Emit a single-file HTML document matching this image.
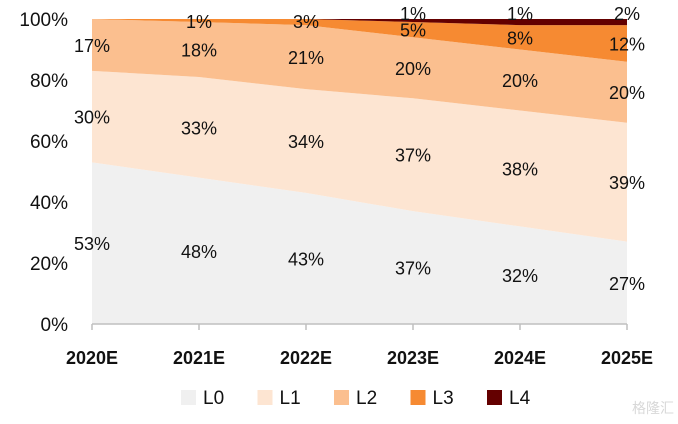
<!DOCTYPE html>
<html><head><meta charset="utf-8"><style>
body{margin:0;background:#fff;}
svg{display:block;font-family:"Liberation Sans","Noto Sans CJK SC",sans-serif;}
</style></head><body>
<svg id="chart" width="678" height="424" viewBox="0 0 678 424" xmlns="http://www.w3.org/2000/svg"></svg>
<script>
const categories=["2020E","2021E","2022E","2023E","2024E","2025E"];
const seriesNames=["L0","L1","L2","L3","L4"];
const L0=[53,48,43,37,32,27];
const L1=[30,33,34,37,38,39];
const L2=[17,18,21,20,20,20];
const L3=[0,1,3,5,8,12];
const L4=[0,0,0,1,1,2];
const yTicks=[0,20,40,60,80,100];
const series=[L0,L1,L2,L3,L4];
const colors=["#f0f0f0","#fde5d2","#fbbf8f","#f68a32","#640000"];
const svg=document.getElementById('chart');
const NS="http://www.w3.org/2000/svg";
const x0=92,x1=627,yTop=19,yBot=324;
const xs=i=>x0+(x1-x0)*i/(categories.length-1);
const ys=v=>yBot-(yBot-yTop)*Math.min(v,100)/100;
function mk(t,a){const e=document.createElementNS(NS,t);for(const k in a)e.setAttribute(k,a[k]);svg.appendChild(e);return e;}
const cum=categories.map(()=>0);
const layers=[];
series.forEach((s,si)=>{
  const lo=cum.slice();
  s.forEach((v,i)=>cum[i]+=v);
  const hi=si===series.length-1?cum.map(()=>100):cum.slice();
  let d="M"+lo.map((v,i)=>xs(i)+","+ys(v)).join(" L");
  for(let i=hi.length-1;i>=0;i--)d+=" L"+xs(i)+","+ys(Math.max(hi[i],Math.min(lo[i],100)));
  d+="Z";
  const p=mk('path',{d:d,fill:colors[si]});
  
  
  layers.push({lo:lo,hi:cum.slice()});
});
series.forEach((s,si)=>{
  s.forEach((v,i)=>{
    if(si>=3&&v===0)return;
    let mid=(Math.min(layers[si].lo[i],100)+Math.min(layers[si].hi[i],100))/2;
    let y=ys(mid)+7;
    if(si===4)y=ys(100)+1;
    if(si===3&&layers[si].hi[i]>=100&&v<=3)y=ys(100)+9;
    const t=mk('text',{x:xs(i),y:y,'font-size':18,'text-anchor':'middle',fill:'#111'});
    t.textContent=v+"%";
    
    
  });
});
const ax=mk('line',{x1:x0,y1:yBot,x2:x1,y2:yBot,stroke:'#bfbfbf','stroke-width':1.5});

categories.forEach((c,i)=>{
  const tk=mk('line',{x1:xs(i),y1:yBot,x2:xs(i),y2:yBot+6,stroke:'#bfbfbf','stroke-width':1.5});
  
  const t=mk('text',{x:xs(i),y:364,'font-size':18,'font-weight':'bold','text-anchor':'middle',fill:'#111'});
  t.textContent=c;
  
});
yTicks.forEach(v=>{
  const t=mk('text',{x:68,y:ys(v)+7,'font-size':19,'text-anchor':'end',fill:'#111'});
  t.textContent=v+"%";
  
});
seriesNames.forEach((n,i)=>{
  const lx=181+i*76.5;
  const r=mk('rect',{x:lx,y:390,width:15,height:15,fill:colors[i]});
  
  const t=mk('text',{x:lx+22,y:404,'font-size':19,fill:'#111'});
  t.textContent=n;
  
});
const w=mk('text',{x:674,y:413,'font-size':14,'text-anchor':'end',fill:'#d8d8d8'});
w.textContent="格隆汇";

</script>
</body></html>
